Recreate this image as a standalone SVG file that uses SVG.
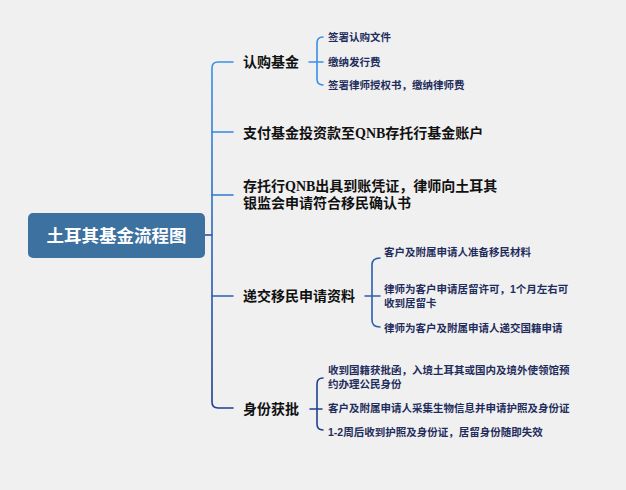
<svg xmlns="http://www.w3.org/2000/svg" width="626" height="490" viewBox="0 0 626 490">
<defs>
<linearGradient id="spineGrad" gradientUnits="userSpaceOnUse" x1="0" y1="62" x2="0" y2="408">
<stop offset="0" stop-color="#3a90e8"/>
<stop offset="1" stop-color="#1b3f8c"/>
</linearGradient>
</defs>
<style>
text{font-family:"Liberation Sans","Noto Sans CJK SC",sans-serif;font-weight:bold}
.root{fill:#ffffff;font-size:17.5px}
.main{fill:#111111;font-size:14px}
.sub{fill:#1f2d5c;font-size:10.5px}
.q{font-family:"Liberation Serif","Noto Sans CJK SC",serif}
.ln{fill:none;stroke-width:1.6;stroke-linecap:round}
</style>
<rect width="626" height="490" fill="#f0f0f0"/>
<g id="connectors">
<path class="ln" stroke="#1f4a9a" d="M205,235 H212"/>
<path class="ln" stroke="url(#spineGrad)" d="M233,62 H218 Q212,62 212,68 V402 Q212,408 218,408 H233"/>
<path class="ln" stroke="#3585df" d="M212,132 H233"/>
<path class="ln" stroke="#2f78d0" d="M212,195 H233"/>
<path class="ln" stroke="#2660b4" d="M212,296 H233"/>
<path class="ln" stroke="#3a90e8" d="M309,62 H323 M323,37 Q317,37 317,43 V79 Q317,85 323,85"/>
<path class="ln" stroke="#2a5fae" d="M365,296 H380 M380,258 Q372,258 372,265 V320 Q372,327 380,327"/>
<path class="ln" stroke="#1d4290" d="M310,409 H322 M323,378 Q317,378 317,384 V424 Q317,430 323,430"/>
</g>
<g id="root">
<rect x="28" y="213" width="177" height="45" rx="5" fill="#3d71a0"/>
<text class="root" x="116.5" y="242" text-anchor="middle">土耳其基金流程图</text>
</g>
<g id="n1">
<text class="main" x="243" y="67">认购基金</text>
</g>
<g id="n1a"><text class="sub" x="328" y="41">签署认购文件</text></g>
<g id="n1b"><text class="sub" x="328" y="66">缴纳发行费</text></g>
<g id="n1c"><text class="sub" x="328" y="89">签署律师授权书，缴纳律师费</text></g>
<g id="n2">
<text class="main" x="243" y="138">支付基金投资款至<tspan class="q">QNB</tspan>存托行基金账户</text>
</g>
<g id="n3">
<text class="main" x="243" y="191">存托行<tspan class="q">QNB</tspan>出具到账凭证，律师向土耳其</text>
<text class="main" x="243" y="208">银监会申请符合移民确认书</text>
</g>
<g id="n4">
<text class="main" x="243" y="301">递交移民申请资料</text>
</g>
<g id="n4a"><text class="sub" x="384" y="256">客户及附属申请人准备移民材料</text></g>
<g id="n4b">
<text class="sub" x="384" y="293">律师为客户申请居留许可，1个月左右可</text>
<text class="sub" x="384" y="307">收到居留卡</text>
</g>
<g id="n4c"><text class="sub" x="384" y="332">律师为客户及附属申请人递交国籍申请</text></g>
<g id="n5">
<text class="main" x="243" y="414">身份获批</text>
</g>
<g id="n5a">
<text class="sub" x="328" y="374">收到国籍获批函，入境土耳其或国内及境外使领馆预</text>
<text class="sub" x="328" y="388">约办理公民身份</text>
</g>
<g id="n5b"><text class="sub" x="328" y="412">客户及附属申请人采集生物信息并申请护照及身份证</text></g>
<g id="n5c"><text class="sub" x="328" y="436">1-2周后收到护照及身份证，居留身份随即失效</text></g>
</svg>
